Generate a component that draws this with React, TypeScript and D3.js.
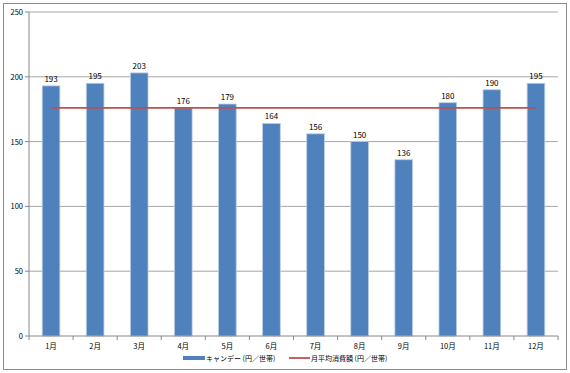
import React from 'react';
import * as d3 from 'd3';

const months = ['1月', '2月', '3月', '4月', '5月', '6月', '7月', '8月', '9月', '10月', '11月', '12月'];
const candyValues = [193, 195, 203, 176, 179, 164, 156, 150, 136, 180, 190, 195];
const averageValue = 176;
const yTicks = [0, 50, 100, 150, 200, 250];
const seriesNames = ['キャンデー (円／世帯)', '月平均消費額 (円／世帯)'];

const W = 570;
const H = 373;
const margin = { left: 29, right: 12, top: 12, bottom: 37 };

export default function App() {
  const x = d3.scaleBand().domain(months).range([margin.left, W - margin.right]).paddingInner(0.6).paddingOuter(0.3);
  const y = d3.scaleLinear().domain([0, 250]).range([H - margin.bottom, margin.top]);
  const step = x.step();
  const bandStart = margin.left;
  const font = "'Noto Sans CJK JP', 'DejaVu Sans', sans-serif";
  const cx = (m: string) => (x(m) ?? 0) + x.bandwidth() / 2;
  const base = y(0);

  return (
    <svg width={W} height={H} style={{ position: 'absolute', left: 0, top: 0 }} fontFamily={font}>
      <rect x={3.5} y={3.5} width={W - 7} height={H - 7} fill="#fff" stroke="#8c8c8c" />
      {yTicks.map((t) => (
        <g key={t}>
          {t > 0 && (
            <line x1={margin.left} x2={W - margin.right} y1={y(t)} y2={y(t)} stroke="#a6a6a6" strokeWidth={1} />
          )}
          <line x1={margin.left - 4} x2={margin.left} y1={y(t)} y2={y(t)} stroke="#888" />
          <text x={margin.left - 6} y={y(t) + 3} fontSize={7.5} textAnchor="end" fill="#000">
            {t}
          </text>
        </g>
      ))}
      <line x1={margin.left} x2={margin.left} y1={margin.top} y2={base} stroke="#888" />
      {candyValues.map((v, i) => (
        <g key={months[i]}>
          <rect
            x={x(months[i])}
            y={y(v)}
            width={x.bandwidth()}
            height={base - y(v)}
            fill="#4f81bd"
            stroke="#b9cde5"
            strokeWidth={0.8}
          />
          <text x={cx(months[i])} y={y(v) - 4} fontSize={8} textAnchor="middle" fill="#000">
            {v}
          </text>
        </g>
      ))}
      <line
        x1={cx(months[0])}
        x2={cx(months[months.length - 1])}
        y1={y(averageValue)}
        y2={y(averageValue)}
        stroke="#c0504d"
        strokeWidth={1.8}
      />
      <line x1={margin.left} x2={W - margin.right} y1={base} y2={base} stroke="#888" />
      {d3.range(months.length + 1).map((i) => (
        <line key={i} x1={bandStart + i * step} x2={bandStart + i * step} y1={base} y2={base + 4} stroke="#888" />
      ))}
      {months.map((m) => (
        <text key={m} x={cx(m)} y={base + 13} fontSize={7.5} textAnchor="middle" fill="#000">
          {m}
        </text>
      ))}
      <g fontSize={7}>
        <line x1={183} x2={205} y1={358} y2={358} stroke="#4f81bd" strokeWidth={4} />
        <text x={206} y={361} fill="#000">{seriesNames[0]}</text>
        <line x1={289} x2={310} y1={358} y2={358} stroke="#c0504d" strokeWidth={1.8} />
        <text x={311} y={361} fill="#000">{seriesNames[1]}</text>
      </g>
    </svg>
  );
}
